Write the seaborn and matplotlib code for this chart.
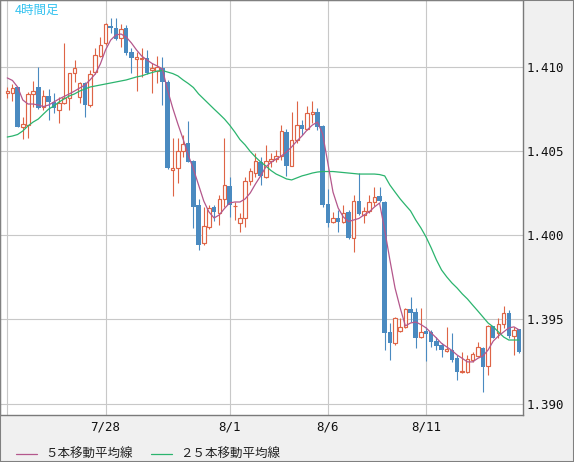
import numpy as np
import pandas as pd
import matplotlib
matplotlib.use("Agg")
import matplotlib.pyplot as plt
from matplotlib.patches import Rectangle
import seaborn as sns

# ---------------- data ----------------
open_ = [1.40847, 1.40847, 1.40881, 1.40645, 1.40654, 1.40840, 1.40881, 1.40761, 1.40828, 1.40790,
         1.40745, 1.40784, 1.40814, 1.40963, 1.40820, 1.40903, 1.40774, 1.40969, 1.41067, 1.41141,
         1.41244, 1.41230, 1.41170, 1.41230, 1.41091, 1.41048, 1.41050, 1.41052, 1.40982, 1.40978,
         1.40992, 1.40909, 1.40388, 1.40398, 1.40501, 1.40547, 1.40442, 1.40180, 1.39956, 1.40051,
         1.40170, 1.40131, 1.40214, 1.40293, 1.40173, 1.40072, 1.40101, 1.40323, 1.40370, 1.40437,
         1.40348, 1.40440, 1.40453, 1.40471, 1.40614, 1.40412, 1.40566, 1.40655, 1.40630, 1.40719,
         1.40731, 1.40650, 1.40186, 1.40078, 1.40101, 1.40081, 1.40139, 1.39982, 1.40206, 1.40121,
         1.40146, 1.40196, 1.40236, 1.40200, 1.39424, 1.39359, 1.39434, 1.39457, 1.39561, 1.39543,
         1.39394, 1.39434, 1.39424, 1.39374, 1.39349, 1.39315, 1.39319, 1.39270, 1.39187, 1.39187,
         1.39260, 1.39285, 1.39329, 1.39226, 1.39462, 1.39418, 1.39472, 1.39537, 1.39402, 1.39444]

high = [1.40883, 1.40897, 1.40884, 1.40705, 1.40851, 1.40917, 1.41002, 1.40863, 1.40869, 1.40844,
        1.40824, 1.41141, 1.40967, 1.41042, 1.40913, 1.40913, 1.40982, 1.41113, 1.41178, 1.41263,
        1.41291, 1.41294, 1.41258, 1.41252, 1.41111, 1.41089, 1.41111, 1.41101, 1.41022, 1.41065,
        1.41061, 1.40923, 1.40578, 1.40578, 1.40596, 1.40679, 1.40445, 1.40216, 1.40170, 1.40180,
        1.40180, 1.40240, 1.40580, 1.40348, 1.40200, 1.40131, 1.40348, 1.40398, 1.40489, 1.40465,
        1.40537, 1.40487, 1.40507, 1.40653, 1.40632, 1.40734, 1.40798, 1.40685, 1.40768, 1.40798,
        1.40755, 1.40655, 1.40275, 1.40140, 1.40151, 1.40180, 1.40151, 1.40240, 1.40369, 1.40170,
        1.40240, 1.40289, 1.40289, 1.40201, 1.39478, 1.39517, 1.39511, 1.39567, 1.39636, 1.39568,
        1.39568, 1.39457, 1.39438, 1.39398, 1.39359, 1.39457, 1.39418, 1.39289, 1.39309, 1.39289,
        1.39309, 1.39368, 1.39335, 1.39467, 1.39464, 1.39507, 1.39582, 1.39557, 1.39457, 1.39444]

low = [1.40814, 1.40798, 1.40641, 1.40572, 1.40576, 1.40761, 1.40750, 1.40745, 1.40685, 1.40729,
       1.40666, 1.40780, 1.40745, 1.40913, 1.40784, 1.40705, 1.40761, 1.40961, 1.41059, 1.41131,
       1.41200, 1.41160, 1.41121, 1.41071, 1.40963, 1.40860, 1.40942, 1.40958, 1.40847, 1.40905,
       1.40774, 1.40394, 1.40236, 1.40311, 1.40467, 1.40433, 1.40042, 1.39913, 1.39943, 1.40038,
       1.40087, 1.40061, 1.40170, 1.40111, 1.40091, 1.40022, 1.40051, 1.40299, 1.40348, 1.40299,
       1.40339, 1.40408, 1.40436, 1.40448, 1.40350, 1.40409, 1.40547, 1.40596, 1.40626, 1.40666,
       1.40626, 1.40168, 1.40050, 1.40072, 1.40022, 1.40073, 1.39978, 1.39903, 1.40121, 1.40075,
       1.40131, 1.40174, 1.40200, 1.39319, 1.39260, 1.39349, 1.39428, 1.39448, 1.39487, 1.39331,
       1.39388, 1.39255, 1.39339, 1.39319, 1.39279, 1.39309, 1.39250, 1.39141, 1.39184, 1.39181,
       1.39250, 1.39279, 1.39071, 1.39170, 1.39388, 1.39388, 1.39448, 1.39388, 1.39289, 1.39299]

close = [1.40859, 1.40877, 1.40645, 1.40660, 1.40840, 1.40856, 1.40755, 1.40828, 1.40790, 1.40755,
         1.40784, 1.40814, 1.40963, 1.40992, 1.40903, 1.40774, 1.40957, 1.41071, 1.41131, 1.41255,
         1.41230, 1.41166, 1.41224, 1.41085, 1.41052, 1.41058, 1.41056, 1.40963, 1.40994, 1.41002,
         1.40913, 1.40398, 1.40402, 1.40501, 1.40541, 1.40437, 1.40170, 1.39943, 1.40056, 1.40164,
         1.40140, 1.40214, 1.40299, 1.40180, 1.40176, 1.40101, 1.40323, 1.40382, 1.40442, 1.40353,
         1.40442, 1.40453, 1.40471, 1.40620, 1.40412, 1.40566, 1.40655, 1.40630, 1.40725, 1.40733,
         1.40644, 1.40180, 1.40076, 1.40101, 1.40081, 1.40131, 1.39982, 1.40206, 1.40125, 1.40146,
         1.40200, 1.40230, 1.40206, 1.39422, 1.39359, 1.39511, 1.39457, 1.39561, 1.39541, 1.39390,
         1.39424, 1.39412, 1.39368, 1.39345, 1.39319, 1.39325, 1.39260, 1.39190, 1.39194, 1.39264,
         1.39295, 1.39335, 1.39220, 1.39462, 1.39392, 1.39472, 1.39537, 1.39404, 1.39438, 1.39309]

ma5 = [1.40935, 1.40920, 1.40881, 1.40804, 1.40780, 1.40780, 1.40774, 1.40765, 1.40774, 1.40792,
       1.40810, 1.40825, 1.40840, 1.40857, 1.40875, 1.40893, 1.40923, 1.40958, 1.41018, 1.41101,
       1.41160, 1.41190, 1.41196, 1.41178, 1.41143, 1.41101, 1.41065, 1.41042, 1.41021, 1.41006,
       1.40988, 1.40863, 1.40756, 1.40661, 1.40572, 1.40477, 1.40394, 1.40299, 1.40204, 1.40139,
       1.40103, 1.40121, 1.40159, 1.40192, 1.40198, 1.40198, 1.40216, 1.40252, 1.40305, 1.40353,
       1.40406, 1.40433, 1.40453, 1.40471, 1.40495, 1.40525, 1.40560, 1.40590, 1.40626, 1.40655,
       1.40673, 1.40602, 1.40430, 1.40257, 1.40162, 1.40109, 1.40082, 1.40091, 1.40100, 1.40121,
       1.40139, 1.40168, 1.40192, 1.40032, 1.39854, 1.39687, 1.39568, 1.39462, 1.39479, 1.39485,
       1.39470, 1.39450, 1.39420, 1.39390, 1.39358, 1.39337, 1.39316, 1.39289, 1.39269, 1.39248,
       1.39248, 1.39269, 1.39283, 1.39319, 1.39372, 1.39402, 1.39426, 1.39450, 1.39456, 1.39438]

ma25 = [1.40584, 1.40590, 1.40599, 1.40620, 1.40650, 1.40673, 1.40691, 1.40721, 1.40750, 1.40768,
        1.40792, 1.40810, 1.40828, 1.40840, 1.40857, 1.40869, 1.40881, 1.40887, 1.40893, 1.40899,
        1.40905, 1.40911, 1.40917, 1.40923, 1.40932, 1.40941, 1.40947, 1.40958, 1.40967, 1.40976,
        1.40979, 1.40970, 1.40961, 1.40947, 1.40923, 1.40902, 1.40878, 1.40840, 1.40810, 1.40780,
        1.40750, 1.40721, 1.40691, 1.40655, 1.40614, 1.40569, 1.40537, 1.40498, 1.40465, 1.40436,
        1.40412, 1.40385, 1.40364, 1.40350, 1.40335, 1.40329, 1.40341, 1.40353, 1.40361, 1.40370,
        1.40376, 1.40379, 1.40379, 1.40379, 1.40376, 1.40373, 1.40370, 1.40367, 1.40364, 1.40364,
        1.40364, 1.40364, 1.40361, 1.40353, 1.40299, 1.40257, 1.40216, 1.40180, 1.40145, 1.40091,
        1.40044, 1.39990, 1.39925, 1.39854, 1.39794, 1.39753, 1.39717, 1.39687, 1.39652, 1.39622,
        1.39586, 1.39551, 1.39515, 1.39479, 1.39456, 1.39426, 1.39396, 1.39378, 1.39378, 1.39378]

x_tick_pos = [0, 19, 43, 62, 81]
x_tick_labels = ["", "7/28", "8/1", "8/6", "8/11"]
y_ticks = [1.390, 1.395, 1.400, 1.405, 1.410]
legend_labels = ["５本移動平均線", "２５本移動平均線"]
title_text = "4時間足"

# ---------------- style ----------------
UP = "#de6446"
DOWN = "#4a8ac0"
MA5C = "#b4578c"
MA25C = "#2bb46e"
GRID = "#c8c8c8"
SPINE = "#7a7a7a"
BG = "#f0f0f0"

sns.set_style("white")
plt.rcParams["font.family"] = ["Noto Sans CJK JP", "DejaVu Sans"]

fig = plt.figure(figsize=(5.74, 4.62), dpi=100, facecolor=BG)
ax = fig.add_axes([0, 1 - 415 / 462, 523 / 574, 415 / 462])
ax.set_facecolor("white")

df = pd.DataFrame({"i": np.arange(len(open_)), "open": open_, "high": high,
                   "low": low, "close": close, "ma5": ma5, "ma25": ma25})
up = df["close"] >= df["open"]
dn = ~up

# wicks
ax.vlines(df.loc[up, "i"], df.loc[up, "low"], df.loc[up, "high"], color=UP, lw=0.8, zorder=2)
ax.vlines(df.loc[dn, "i"], df.loc[dn, "low"], df.loc[dn, "high"], color=DOWN, lw=0.8, zorder=2)
# bodies
ax.bar(df.loc[up, "i"], df.loc[up, "close"] - df.loc[up, "open"], bottom=df.loc[up, "open"],
       width=0.68, facecolor="white", edgecolor=UP, linewidth=0.85, zorder=3)
ax.bar(df.loc[dn, "i"], df.loc[dn, "close"] - df.loc[dn, "open"], bottom=df.loc[dn, "open"],
       width=0.86, color=DOWN, linewidth=0, zorder=3)

# moving averages
sns.lineplot(data=df, x="i", y="ma25", ax=ax, color=MA25C, lw=0.9, zorder=4,
             label=legend_labels[1], errorbar=None)
sns.lineplot(data=df, x="i", y="ma5", ax=ax, color=MA5C, lw=0.9, zorder=5,
             label=legend_labels[0], errorbar=None)

ax.set_xlim(-1.41, 99.75)
ax.set_ylim(1.389325, 1.41398)
ax.set_xlabel("")
ax.set_ylabel("")

ax.set_xticks(x_tick_pos)
ax.set_xticklabels(x_tick_labels, fontfamily="DejaVu Sans Mono", fontsize=9, color="#111111")
ax.set_yticks(y_ticks)
ax.set_yticklabels([f"{v:.3f}" for v in y_ticks], fontfamily="DejaVu Sans Mono",
                   fontsize=9, color="#111111")
ax.yaxis.tick_right()
ax.tick_params(axis="x", length=0, pad=4)
ax.tick_params(axis="y", length=0, pad=2.6)

ax.set_axisbelow(True)
ax.grid(True, color=GRID, lw=0.8)
for s in ax.spines.values():
    s.set_visible(True)
    s.set_color(SPINE)
    s.set_linewidth(1.0)

# legend
h, l = ax.get_legend_handles_labels()
order = [l.index(legend_labels[0]), l.index(legend_labels[1])]
if ax.get_legend() is not None:
    ax.get_legend().remove()
fig.legend([h[k] for k in order], [l[k] for k in order], loc="lower left",
           bbox_to_anchor=(16 / 574, 1 / 462), ncol=2, frameon=False, fontsize=9,
           handlelength=1.67, handletextpad=0.64, columnspacing=1.5,
           borderpad=0, borderaxespad=0, labelcolor="#222222")

fig.text(15 / 574, 1 - 3.5 / 462, title_text, color="#36c3f0", fontsize=9,
         ha="left", va="top")

fig.patches.append(Rectangle((0, 0), 1, 1, transform=fig.transFigure, fill=False,
                             edgecolor="#808080", lw=1.5, zorder=10))

fig.savefig("out.png", dpi=100, facecolor=BG)
